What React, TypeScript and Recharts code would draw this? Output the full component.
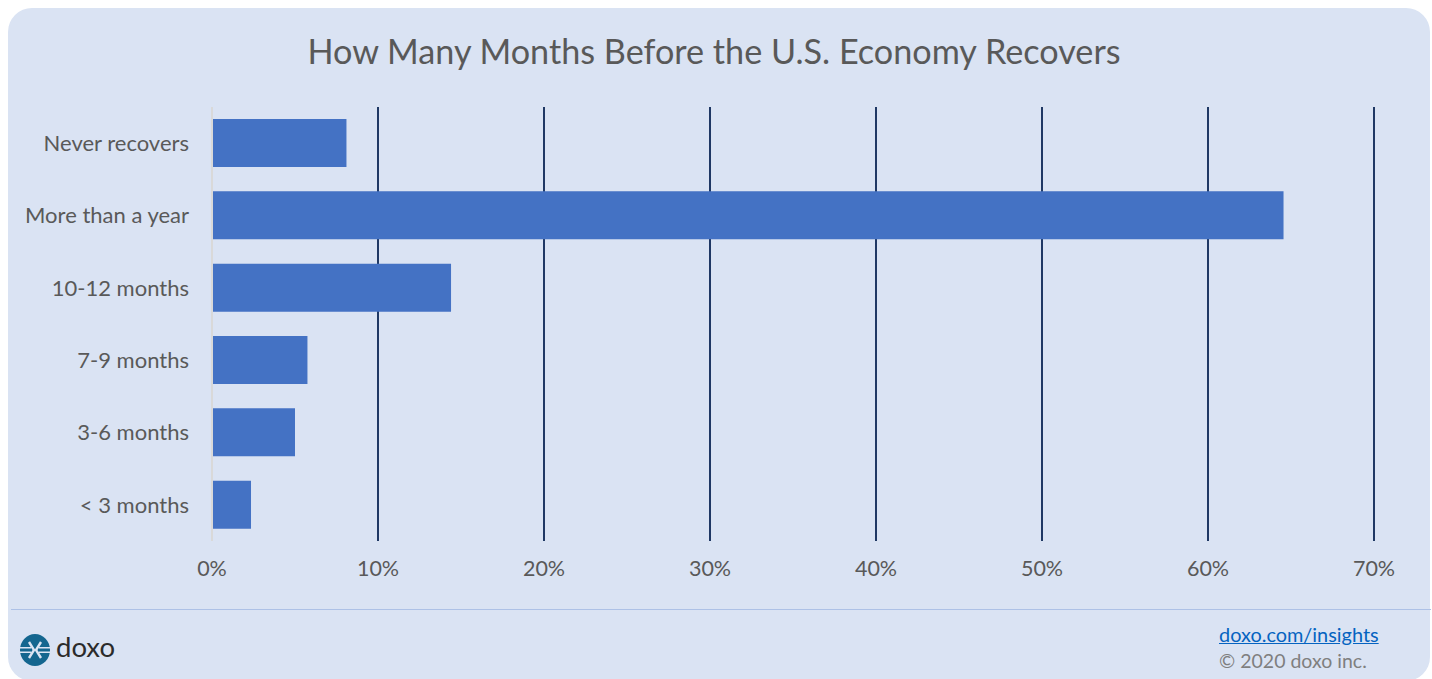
import React from "react";
import { BarChart, Bar, XAxis, YAxis, CartesianGrid } from "recharts";

const categories = ["Never recovers", "More than a year", "10-12 months", "7-9 months", "3-6 months", "< 3 months"];
const shares = [8.1, 64.55, 14.4, 5.75, 5.0, 2.35];
const xTicks = [0, 10, 20, 30, 40, 50, 60, 70];
const gridValues = [10, 20, 30, 40, 50, 60, 70];
const rows = categories.map((name, i) => ({ name, share: shares[i] }));

const FONT = "Lato, 'Open Sans', sans-serif";

function Logo() {
  return (
    <svg width="31" height="32" viewBox="0 0 31 32" style={{ position: "absolute", left: 20, top: 634 }}>
      <ellipse cx="15" cy="16" rx="15" ry="16" fill="#14668f" />
      <path d="M0 13.8H11M0 18.2H11M19 13.8H30M19 18.2H30" stroke="#dbe4f3" strokeWidth="1.6" />
      <path d="M9 8L14 16L9 24M21 8L16 16L21 24" fill="none" stroke="#dbe4f3" strokeWidth="2.4" />
    </svg>
  );
}

export default function App() {
  return (
    <div style={{ position: "absolute", left: 0, top: 0, width: 1432, height: 679, overflow: "hidden", background: "#fff", fontFamily: FONT }}>
      <div style={{ position: "absolute", left: 8, top: 8, width: 1422, height: 673, background: "#dae3f3", borderRadius: 24 }} />
      <div style={{ position: "absolute", left: 0, top: 30, width: 1428, textAlign: "center", fontSize: 34.2, lineHeight: "42px", color: "#595959" }}>
        How Many Months Before the U.S. Economy Recovers
      </div>
      <div style={{ position: "absolute", left: 11, top: 609, width: 1420, height: 1, background: "#adc1e6" }} />
      <div style={{ position: "absolute", left: 0, top: 0 }}>
        <BarChart width={1432} height={679} data={rows} layout="vertical" barSize={48}
          margin={{ top: 107, right: 58, bottom: 108, left: 0 }}>
          <CartesianGrid horizontal={false} verticalValues={gridValues} stroke="#1f3864" strokeWidth={2} />
          <XAxis type="number" dataKey="share" domain={[0, 70]} ticks={xTicks} tickFormatter={(v: number) => `${v}%`}
            height={30} axisLine={false} tickLine={false} interval={0} tickMargin={14}
            tick={{ fill: "#595959", fontSize: 21.5, fontFamily: FONT }} />
          <YAxis type="category" dataKey="name" width={212} interval={0} tickLine={false} tickMargin={17}
            axisLine={{ stroke: "#d9d9d9", strokeWidth: 2 }}
            tick={{ fill: "#595959", fontSize: 22, fontFamily: FONT }} />
          <Bar dataKey="share" fill="#4472c4" isAnimationActive={false} />
        </BarChart>
      </div>
      <Logo />
      <div style={{ position: "absolute", left: 56, top: 627, fontSize: 27.5, lineHeight: "40px", color: "#2b2b2b" }}>doxo</div>
      <div style={{ position: "absolute", left: 1219, top: 621, fontSize: 19.9, lineHeight: "26px", color: "#0563c1", textDecoration: "underline" }}>doxo.com/insights</div>
      <div style={{ position: "absolute", left: 1219, top: 648, fontSize: 19.5, lineHeight: "26px", color: "#7f7f7f" }}>© 2020 doxo inc.</div>
    </div>
  );
}
